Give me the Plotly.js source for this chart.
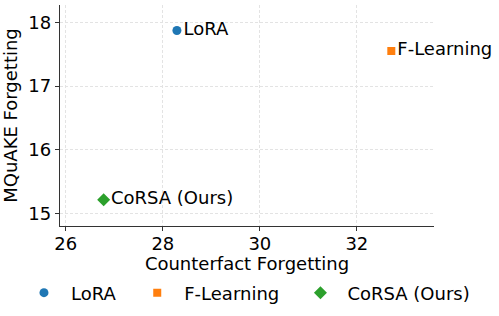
<!DOCTYPE html>
<html><head><meta charset="utf-8">
<script src="https://cdn.plot.ly/plotly-3.0.1.min.js"></script>
<style>html,body{margin:0;padding:0;background:#fff}#chart{width:499px;height:316px}</style>
</head><body><div id="chart"></div>
<script>
const methods = ["LoRA", "F-Learning", "CoRSA (Ours)"];
const counterfact = [28.29, 32.71, 26.78];
const mquake = [17.87, 17.55, 15.22];
const colors = ["#1f77b4", "#ff7f0e", "#2ca02c"];
const symbols = ["circle", "square", "diamond"];
const sizes = [9, 8, 10];
const legendIds = ["legend", "legend2", "legend3"];
const legendX = [0.034, 0.261, 0.588];

const traces = methods.map((m, i) => ({
  type: "scatter", mode: "markers+text",
  x: [counterfact[i]], y: [mquake[i]],
  name: m, text: [m], textposition: "middle right",
  textfont: {family: "DejaVu Sans", size: 18, color: "#000"},
  marker: {color: colors[i], symbol: symbols[i], size: sizes[i]},
  legend: legendIds[i],
  cliponaxis: false
}));

const layout = {
  width: 499, height: 316,
  margin: {l: 60, r: 65, t: 5, b: 90},
  paper_bgcolor: "#fff", plot_bgcolor: "#fff",
  font: {family: "DejaVu Sans", size: 18, color: "#000"},
  showlegend: true,
  xaxis: {range: [25.88, 33.59], tickvals: [26, 28, 30, 32], ticktext: ["26","28","30","32"],
          showline: true, linecolor: "#333", linewidth: 1.2, ticks: "outside", ticklen: 4, tickcolor: "#333",
          ticklabelstandoff: -3,
          showgrid: true, gridcolor: "#e3e3e3", griddash: "3px,2px", gridwidth: 1, zeroline: false,
          title: {text: "Counterfact Forgetting", font: {size: 18}, standoff: 8}},
  yaxis: {range: [14.81, 18.27], tickvals: [15, 16, 17, 18], ticktext: ["15","16","17","18"],
          showline: true, linecolor: "#333", linewidth: 1.2, ticks: "outside", ticklen: 4, tickcolor: "#333",
          showgrid: true, gridcolor: "#e3e3e3", griddash: "3px,2px", gridwidth: 1, zeroline: false,
          title: {text: "MQuAKE Forgetting", font: {size: 18}, standoff: 6}}
};
legendIds.forEach((id, i) => {
  layout[id] = {orientation: "h", x: legendX[i], xref: "container", xanchor: "left",
                y: 0.073, yref: "container", yanchor: "middle",
                font: {size: 18}, bgcolor: "rgba(0,0,0,0)", itemwidth: 44};
});
Plotly.newPlot("chart", traces, layout, {displayModeBar: false, staticPlot: true});
</script></body></html>
